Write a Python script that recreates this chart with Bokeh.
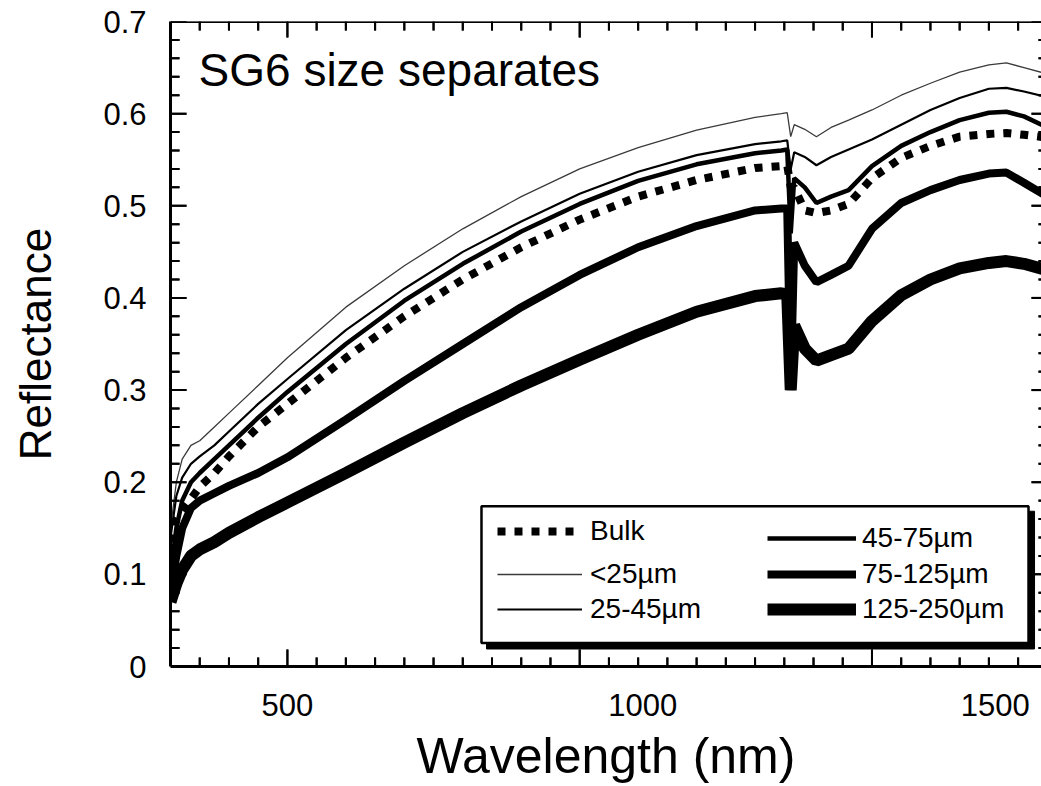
from bokeh.plotting import figure
from bokeh.models import (FixedTicker, Range1d, Label, BoxAnnotation, Span,
                          Legend, LegendItem)
from bokeh.embed import file_html
from bokeh.resources import INLINE

# ---------------- data ----------------
wavelength = [300, 310, 320, 335, 350, 375, 400, 450, 500, 600, 700, 800, 900, 1000,
              1100, 1200, 1300, 1345, 1355, 1361, 1367, 1385, 1405, 1430, 1460, 1500,
              1550, 1600, 1650, 1700, 1730, 1760, 1800]

bulk = [0.135, 0.160, 0.170, 0.182, 0.195, 0.210, 0.228, 0.260, 0.285, 0.335, 0.380,
        0.420, 0.455, 0.485, 0.510, 0.528, 0.541, 0.543, 0.544, 0.520, 0.520, 0.495,
        0.492, 0.495, 0.502, 0.530, 0.552, 0.565, 0.575, 0.578, 0.579, 0.577, 0.574]

lt25 = [0.150, 0.200, 0.225, 0.240, 0.245, 0.260, 0.275, 0.305, 0.335, 0.390, 0.435,
        0.475, 0.510, 0.540, 0.563, 0.582, 0.596, 0.600, 0.601, 0.575, 0.588, 0.583,
        0.575, 0.585, 0.593, 0.604, 0.620, 0.633, 0.645, 0.653, 0.655, 0.650, 0.643]

s25_45 = [0.140, 0.185, 0.205, 0.220, 0.228, 0.240, 0.255, 0.285, 0.312, 0.365, 0.410,
          0.450, 0.483, 0.513, 0.537, 0.555, 0.567, 0.570, 0.571, 0.540, 0.558, 0.553,
          0.544, 0.553, 0.561, 0.572, 0.588, 0.604, 0.617, 0.627, 0.628, 0.624, 0.618]

s45_75 = [0.100, 0.150, 0.180, 0.200, 0.210, 0.225, 0.240, 0.270, 0.298, 0.350, 0.397,
          0.437, 0.472, 0.502, 0.527, 0.545, 0.557, 0.560, 0.561, 0.470, 0.530, 0.520,
          0.503, 0.510, 0.517, 0.543, 0.565, 0.580, 0.593, 0.601, 0.602, 0.597, 0.585]

s75_125 = [0.080, 0.120, 0.150, 0.172, 0.180, 0.188, 0.196, 0.210, 0.227, 0.268, 0.310,
           0.350, 0.390, 0.425, 0.455, 0.478, 0.495, 0.497, 0.497, 0.300, 0.460, 0.435,
           0.417, 0.425, 0.435, 0.475, 0.503, 0.517, 0.528, 0.535, 0.536, 0.525, 0.510]

s125_250 = [0.070, 0.090, 0.105, 0.120, 0.127, 0.135, 0.145, 0.162, 0.178, 0.210, 0.243,
            0.275, 0.305, 0.333, 0.360, 0.385, 0.402, 0.405, 0.404, 0.300, 0.370, 0.345,
            0.332, 0.338, 0.345, 0.375, 0.403, 0.420, 0.432, 0.438, 0.440, 0.437, 0.430]

series_names = ["Bulk", "<25µm", "25-45µm", "45-75µm", "75-125µm", "125-250µm"]
series_values = [bulk, lt25, s25_45, s45_75, s75_125, s125_250]

x_major_ticks = [500, 1000, 1500]
x_minor_ticks = list(range(300, 1801, 50))
x_tick_labels = ["500", "1000", "1500"]
x_tick_label_at = [500, 1108, 1711]       # where the reference prints these labels
y_major_ticks = [0.0, 0.1, 0.2, 0.3, 0.4, 0.5, 0.6, 0.7]
y_minor_ticks = [round(0.02 * i, 2) for i in range(36)]
y_tick_labels = ["0", "0.1", "0.2", "0.3", "0.4", "0.5", "0.6", "0.7"]

# ---------------- layout / styles ----------------
FONT = "Liberation Sans"
X0, X1, Y0, Y1 = 300, 1790, 0.0, 0.7
FRAME_W, FRAME_H = 871, 646
PX_X = (X1 - X0) / FRAME_W     # data units per pixel
PX_Y = (Y1 - Y0) / FRAME_H

styles = [
    dict(line_color="black", line_width=8, line_dash="8 9"),
    dict(line_color="#3a3a3a", line_width=1.3),
    dict(line_color="black", line_width=2.2),
    dict(line_color="black", line_width=4.5),
    dict(line_color="black", line_width=8),
    dict(line_color="black", line_width=12),
]

p = figure(width=1041, height=786, x_range=Range1d(X0, X1), y_range=Range1d(Y0, Y1),
           output_backend="svg", toolbar_location=None,
           min_border_left=170, min_border_right=0, min_border_top=21, min_border_bottom=118)
p.outline_line_color = None
p.xgrid.visible = False
p.ygrid.visible = False

# bottom axis: frame line + labels where the reference prints them
xb = p.xaxis[0]
xb.ticker = FixedTicker(ticks=x_tick_label_at, minor_ticks=[])
xb.major_label_overrides = {t: s for t, s in zip(x_tick_label_at, x_tick_labels)}
xb.axis_line_color = "black"
xb.axis_line_width = 3
xb.major_tick_line_color = None
xb.minor_tick_line_color = None
xb.major_tick_in = 0
xb.major_tick_out = 0
xb.minor_tick_in = 0
xb.minor_tick_out = 0
xb.major_label_standoff = 27
xb.major_label_text_font = FONT
xb.major_label_text_font_size = "31px"
xb.major_label_text_color = "black"
xb.axis_label = "Wavelength (nm)"
xb.axis_label_text_font = FONT
xb.axis_label_text_font_size = "50px"
xb.axis_label_text_font_style = "normal"
xb.axis_label_text_color = "black"
xb.axis_label_standoff = 9

# left axis
yl = p.yaxis[0]
yl.ticker = FixedTicker(ticks=y_major_ticks, minor_ticks=[])
yl.major_label_overrides = {t: s for t, s in zip(y_major_ticks, y_tick_labels)}
yl.axis_line_color = "black"
yl.axis_line_width = 3
yl.major_tick_line_color = None
yl.minor_tick_line_color = None
yl.major_tick_in = 0
yl.major_tick_out = 0
yl.minor_tick_in = 0
yl.minor_tick_out = 0
yl.major_label_standoff = 24
yl.major_label_text_font = FONT
yl.major_label_text_font_size = "31px"
yl.major_label_text_color = "black"
yl.axis_label = "Reflectance"
yl.axis_label_text_font = FONT
yl.axis_label_text_font_size = "44px"
yl.axis_label_text_font_style = "normal"
yl.axis_label_text_color = "black"
yl.axis_label_standoff = 40

# curves
renderers = []
for vals, st in zip(series_values, styles):
    r = p.line(wavelength, vals, **st)
    renderers.append(r)

# top frame line
p.add_layout(Span(location=Y1, dimension="width", line_color="black", line_width=3))
p.quad(left=[X0], right=[X1], bottom=[Y1 - 1.5 * PX_Y], top=[Y1],
       fill_color="black", line_color=None)


# inward tick marks, drawn from the tick lists through the plot's scales
def ticks_x(vals, length_px, at_bottom):
    if at_bottom:
        y0, y1 = Y0, Y0 + length_px * PX_Y
    else:
        y0, y1 = Y1 - length_px * PX_Y, Y1
    n = len(vals)
    p.quad(left=[v - PX_X for v in vals], right=[v + PX_X for v in vals],
           bottom=[y0] * n, top=[y1] * n, fill_color="black", line_color=None)
    p.segment(x0=vals, y0=[y0] * n, x1=vals, y1=[y1] * n,
              line_color="black", line_width=2)


def ticks_y(vals, length_px, at_left):
    if at_left:
        x0, x1 = X0, X0 + length_px * PX_X
    else:
        x0, x1 = X1 - length_px * PX_X, X1
    n = len(vals)
    p.quad(left=[x0] * n, right=[x1] * n, bottom=[v - PX_Y for v in vals],
           top=[v + PX_Y for v in vals], fill_color="black", line_color=None)
    p.segment(x0=[x0] * n, y0=vals, x1=[x1] * n, y1=vals,
              line_color="black", line_width=2)


x_minor_only = [t for t in x_minor_ticks if t not in x_major_ticks and X0 < t < X1]
y_minor_only = [t for t in y_minor_ticks if t not in y_major_ticks and Y0 < t < Y1]
ticks_x(x_minor_only, 9, True)
ticks_x(x_major_ticks, 17, True)
ticks_x(x_minor_only, 9, False)
ticks_x(x_major_ticks, 16, False)
ticks_y(y_minor_only, 9, True)
ticks_y(y_major_ticks, 16, True)
ticks_y(y_minor_only, 3, False)     # right frame edge is cut off in the reference
ticks_y(y_major_ticks, 10, False)

# annotation text
p.add_layout(Label(x=348, y=0.647, text="SG6 size separates", text_font=FONT,
                   text_font_size="46px", text_color="black", text_baseline="alphabetic"))

# legend box with shadow
p.add_layout(BoxAnnotation(left=840.6, right=1778.1, bottom=0.019, top=0.1685,
                           fill_color="black", fill_alpha=1, line_color="black",
                           line_alpha=1, line_width=1))
p.add_layout(BoxAnnotation(left=832.0, right=1767.8, bottom=0.0255, top=0.1739,
                           fill_color="white", fill_alpha=1, line_color="black",
                           line_alpha=1, line_width=2.5))

# legend entries (pixel placement inside the frame)
leg_x = [327, 327, 327, 597, 597, 597]
leg_row = [533, 576, 611, 540, 576, 611]
leg_glyph_w = [85, 85, 85, 89, 89, 89]
leg_standoff = [8, 8, 8, 6, 6, 6]
H = 30
for name, r, lx, row, gw, so in zip(series_names, renderers, leg_x, leg_row,
                                    leg_glyph_w, leg_standoff):
    lg = Legend(items=[LegendItem(label=name, renderers=[r])],
                location=(lx, 667.5 - row - H / 2), padding=0, margin=0, spacing=0,
                border_line_color=None, background_fill_alpha=0,
                glyph_width=gw, glyph_height=H, label_height=H, label_standoff=so,
                label_text_font=FONT, label_text_font_size="28px",
                label_text_color="black")
    p.add_layout(lg, "center")

open("out.html", "w").write(file_html(p, INLINE))
